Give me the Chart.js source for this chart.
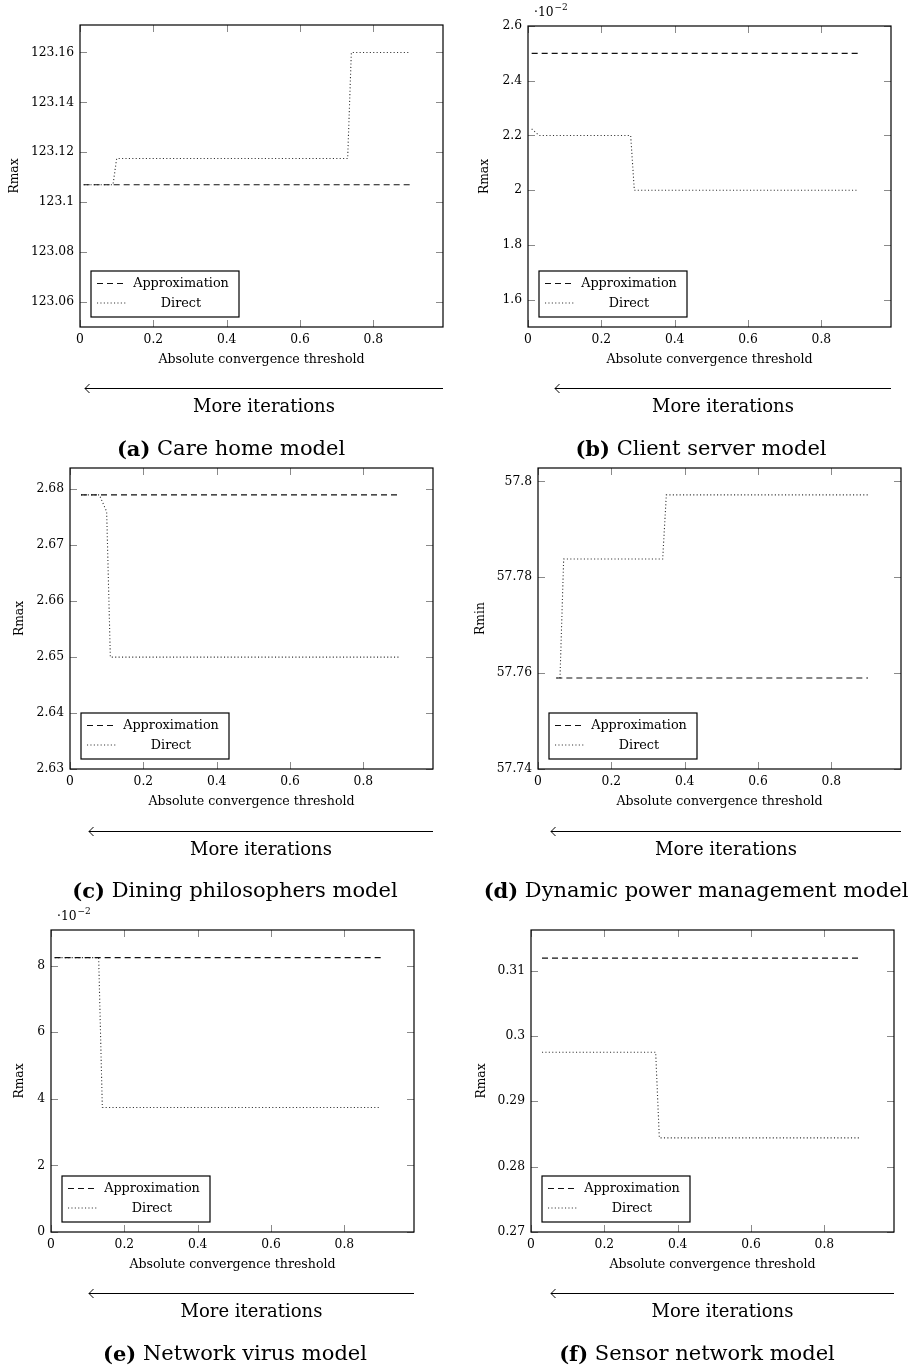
<!DOCTYPE html>
<html>
<head>
<meta charset="utf-8">
<script src="https://cdn.jsdelivr.net/npm/chart.js@4.4.1/dist/chart.umd.min.js"></script>
<style>
  body { margin: 0; background: #fff; width: 915px; height: 1370px; position: relative; overflow: hidden; }
  canvas.plot { position: absolute; }
  #overlay { position: absolute; left: 0; top: 0; pointer-events: none; }
  #overlay text { font-family: 'DejaVu Serif', serif; fill: #000; }
</style>
</head>
<body>
<canvas class="plot" id="chartA"></canvas>
<canvas class="plot" id="chartB"></canvas>
<canvas class="plot" id="chartC"></canvas>
<canvas class="plot" id="chartD"></canvas>
<canvas class="plot" id="chartE"></canvas>
<canvas class="plot" id="chartF"></canvas>
<svg id="overlay" width="915" height="1370" xmlns="http://www.w3.org/2000/svg"></svg>
<script>
// shared axis stuff
var xTickValues = [0, 0.2, 0.4, 0.6, 0.8];
var xTickLabels = ['0', '0.2', '0.4', '0.6', '0.8'];
var xRange = [0, 0.99];
var seriesNames = ['Approximation', 'Direct'];

// (a) Care home model
var careApproxX = [0.01, 0.9];
var careApproxY = [123.107, 123.107];
var careDirectX = [0.01, 0.09, 0.1, 0.73, 0.74, 0.9];
var careDirectY = [123.107, 123.107, 123.1175, 123.1175, 123.16, 123.16];
var careTicks = [123.06, 123.08, 123.1, 123.12, 123.14, 123.16];
var careTickLabels = ['123.06', '123.08', '123.1', '123.12', '123.14', '123.16'];
var careRange = [123.05, 123.171];

// (b) Client server model
var clientApproxX = [0.01, 0.9];
var clientApproxY = [0.025, 0.025];
var clientDirectX = [0.01, 0.03, 0.28, 0.29, 0.9];
var clientDirectY = [0.02224, 0.022, 0.022, 0.020, 0.020];
var clientTicks = [0.016, 0.018, 0.020, 0.022, 0.024, 0.026];
var clientTickLabels = ['1.6', '1.8', '2', '2.2', '2.4', '2.6'];
var clientRange = [0.015, 0.026];

// (c) Dining philosophers model
var diningApproxX = [0.03, 0.9];
var diningApproxY = [2.679, 2.679];
var diningDirectX = [0.03, 0.08, 0.1, 0.11, 0.9];
var diningDirectY = [2.679, 2.679, 2.676, 2.65, 2.65];
var diningTicks = [2.63, 2.64, 2.65, 2.66, 2.67, 2.68];
var diningTickLabels = ['2.63', '2.64', '2.65', '2.66', '2.67', '2.68'];
var diningRange = [2.63, 2.6838];

// (d) Dynamic power management model
var powerApproxX = [0.05, 0.9];
var powerApproxY = [57.759, 57.759];
var powerDirectX = [0.05, 0.06, 0.07, 0.34, 0.35, 0.9];
var powerDirectY = [57.759, 57.759, 57.7838, 57.7838, 57.7972, 57.7972];
var powerTicks = [57.74, 57.76, 57.78, 57.8];
var powerTickLabels = ['57.74', '57.76', '57.78', '57.8'];
var powerRange = [57.74, 57.8028];

// (e) Network virus model
var virusApproxX = [0.01, 0.9];
var virusApproxY = [0.0824, 0.0824];
var virusDirectX = [0.01, 0.13, 0.14, 0.9];
var virusDirectY = [0.0824, 0.0824, 0.0374, 0.0374];
var virusTicks = [0, 0.02, 0.04, 0.06, 0.08];
var virusTickLabels = ['0', '2', '4', '6', '8'];
var virusRange = [0, 0.0907];

// (f) Sensor network model
var sensorApproxX = [0.03, 0.9];
var sensorApproxY = [0.3119, 0.3119];
var sensorDirectX = [0.03, 0.34, 0.35, 0.9];
var sensorDirectY = [0.2975, 0.2975, 0.2844, 0.2844];
var sensorTicks = [0.27, 0.28, 0.29, 0.3, 0.31];
var sensorTickLabels = ['0.27', '0.28', '0.29', '0.3', '0.31'];
var sensorRange = [0.27, 0.3162];

Chart.defaults.font.family = "'DejaVu Serif', serif";
Chart.defaults.font.size = 12.3;
Chart.defaults.color = '#000';
Chart.defaults.animation = false;

function pairs(xs, ys) {
    return xs.map(function (x, i) { return { x: x, y: ys[i] }; });
}

// frame, inner ticks, legend box and the 10^-2 label (pgfplots look)
var pgfLook = {
    id: 'pgfLook',
    afterDatasetsDraw: function (chart, args, opts) {
        var ctx = chart.ctx, a = chart.chartArea;
        var xs = chart.scales.x, ys = chart.scales.y;
        ctx.save();
        ctx.strokeStyle = '#8a8a8a';
        ctx.lineWidth = 1;
        ctx.beginPath();
        xs.ticks.forEach(function (t) {
            var px = Math.round(xs.getPixelForValue(t.value)) + 0.5;
            ctx.moveTo(px, a.bottom); ctx.lineTo(px, a.bottom - 7);
            ctx.moveTo(px, a.top); ctx.lineTo(px, a.top + 7);
        });
        ys.ticks.forEach(function (t) {
            var py = Math.round(ys.getPixelForValue(t.value)) + 0.5;
            ctx.moveTo(a.left, py); ctx.lineTo(a.left + 7, py);
            ctx.moveTo(a.right, py); ctx.lineTo(a.right - 7, py);
        });
        ctx.stroke();

        ctx.strokeStyle = '#000';
        ctx.lineWidth = 1.2;
        ctx.strokeRect(a.left, a.top, a.right - a.left, a.bottom - a.top);

        // legend
        var lx = a.left + 11, ly = a.bottom - 10 - 46;
        ctx.fillStyle = '#fff';
        ctx.fillRect(lx, ly, 148, 46);
        ctx.lineWidth = 1.2;
        ctx.strokeRect(lx, ly, 148, 46);
        ctx.font = "12.8px 'DejaVu Serif', serif";
        ctx.textAlign = 'center';
        ctx.textBaseline = 'middle';
        chart.data.datasets.forEach(function (ds, i) {
            var yy = ly + 12.5 + i * 19.5;
            ctx.beginPath();
            ctx.setLineDash(ds.borderDash);
            ctx.strokeStyle = ds.borderColor;
            ctx.lineWidth = ds.borderWidth;
            ctx.moveTo(lx + 6, yy);
            ctx.lineTo(lx + 35, yy);
            ctx.stroke();
            ctx.setLineDash([]);
            ctx.fillStyle = '#000';
            ctx.fillText(ds.label, lx + 90, yy + 0.5);
        });

        if (opts.exponent) {
            ctx.textAlign = 'left';
            ctx.font = "12.3px 'DejaVu Serif', serif";
            ctx.fillText('\u00b710', a.left + 6, a.top - 13);
            var w = ctx.measureText('\u00b710').width;
            ctx.font = "9px 'DejaVu Serif', serif";
            ctx.fillText(opts.exponent, a.left + 6 + w + 1, a.top - 18);
        }
        ctx.restore();
    }
};

function makePanel(cfg) {
    var canvas = document.getElementById(cfg.id);
    var left = cfg.col ? 458 : 0;
    var top = cfg.box[1] - 25;
    var width = cfg.box[2] + 8 - left;
    var height = cfg.box[3] + 45 - top;
    var yW = cfg.box[0] - left;
    canvas.width = width;
    canvas.height = height;
    canvas.style.left = left + 'px';
    canvas.style.top = top + 'px';

    return new Chart(canvas.getContext('2d'), {
        type: 'scatter',
        data: {
            datasets: [{
                label: seriesNames[0],
                data: pairs(cfg.ax, cfg.ay),
                showLine: true,
                borderColor: '#111',
                borderWidth: 1.1,
                borderDash: [6, 4],
                pointRadius: 0,
                tension: 0
            }, {
                label: seriesNames[1],
                data: pairs(cfg.dx, cfg.dy),
                showLine: true,
                borderColor: '#333',
                borderWidth: 1.1,
                borderDash: [1.1, 2.3],
                pointRadius: 0,
                tension: 0
            }]
        },
        options: {
            responsive: false,
            layout: { padding: { top: 25, right: 8, left: 0, bottom: 0 } },
            plugins: {
                legend: { display: false },
                tooltip: { enabled: false },
                pgfLook: { exponent: cfg.exponent }
            },
            scales: {
                x: {
                    type: 'linear',
                    min: xRange[0],
                    max: xRange[1],
                    grid: { display: false, drawTicks: false },
                    border: { display: false },
                    afterBuildTicks: function (scale) {
                        scale.ticks = xTickValues.map(function (v) { return { value: v }; });
                    },
                    afterFit: function (scale) { scale.height = 45; },
                    ticks: {
                        autoSkip: false,
                        maxRotation: 0,
                        padding: 5,
                        callback: function (v, i) { return xTickLabels[i]; }
                    },
                    title: {
                        display: true,
                        text: 'Absolute convergence threshold',
                        font: { size: 12.6 },
                        padding: { top: 0, bottom: 4.5 }
                    }
                },
                y: {
                    type: 'linear',
                    min: cfg.range[0],
                    max: cfg.range[1],
                    grid: { display: false, drawTicks: false },
                    border: { display: false },
                    afterBuildTicks: function (scale) {
                        scale.ticks = cfg.ticks.map(function (v) { return { value: v }; });
                    },
                    afterFit: function (scale) { scale.width = yW; },
                    ticks: {
                        autoSkip: false,
                        padding: 6,
                        callback: function (v, i) { return cfg.tickLabels[i]; }
                    },
                    title: {
                        display: true,
                        text: cfg.yTitle,
                        padding: { top: yW - cfg.titleGap - 7.4, bottom: 0 }
                    }
                }
            }
        },
        plugins: [pgfLook]
    });
}

makePanel({ id: 'chartA', col: 0, box: [80, 25, 443, 327], titleGap: 65, yTitle: 'Rmax',
    ax: careApproxX, ay: careApproxY, dx: careDirectX, dy: careDirectY,
    ticks: careTicks, tickLabels: careTickLabels, range: careRange });
makePanel({ id: 'chartB', col: 1, box: [528, 26, 891, 327], titleGap: 43, yTitle: 'Rmax', exponent: '\u22122',
    ax: clientApproxX, ay: clientApproxY, dx: clientDirectX, dy: clientDirectY,
    ticks: clientTicks, tickLabels: clientTickLabels, range: clientRange });
makePanel({ id: 'chartC', col: 0, box: [70, 468, 433, 769], titleGap: 50, yTitle: 'Rmax',
    ax: diningApproxX, ay: diningApproxY, dx: diningDirectX, dy: diningDirectY,
    ticks: diningTicks, tickLabels: diningTickLabels, range: diningRange });
makePanel({ id: 'chartD', col: 1, box: [538, 468, 901, 769], titleGap: 57, yTitle: 'Rmin',
    ax: powerApproxX, ay: powerApproxY, dx: powerDirectX, dy: powerDirectY,
    ticks: powerTicks, tickLabels: powerTickLabels, range: powerRange });
makePanel({ id: 'chartE', col: 0, box: [51, 930, 414, 1232], titleGap: 31, yTitle: 'Rmax', exponent: '\u22122',
    ax: virusApproxX, ay: virusApproxY, dx: virusDirectX, dy: virusDirectY,
    ticks: virusTicks, tickLabels: virusTickLabels, range: virusRange });
makePanel({ id: 'chartF', col: 1, box: [531, 930, 894, 1232], titleGap: 49, yTitle: 'Rmax',
    ax: sensorApproxX, ay: sensorApproxY, dx: sensorDirectX, dy: sensorDirectY,
    ticks: sensorTicks, tickLabels: sensorTickLabels, range: sensorRange });

// arrows, "More iterations" and the subfigure captions
var captions = [
    { tag: '(a)', text: 'Care home model', arrow: [85, 443, 388], cap: [231, 448] },
    { tag: '(b)', text: 'Client server model', arrow: [555, 891, 388], cap: [701, 448] },
    { tag: '(c)', text: 'Dining philosophers model', arrow: [89, 433, 831], cap: [235, 890] },
    { tag: '(d)', text: 'Dynamic power management model', arrow: [551, 901, 831], cap: [696, 890] },
    { tag: '(e)', text: 'Network virus model', arrow: [89, 414, 1293], cap: [235, 1353] },
    { tag: '(f)', text: 'Sensor network model', arrow: [551, 894, 1293], cap: [697, 1353] }
];

var svg = document.getElementById('overlay');
var html = '';
captions.forEach(function (c) {
    var x1 = c.arrow[0], x2 = c.arrow[1], y = c.arrow[2] + 0.5;
    html += '<line x1="' + x1 + '" y1="' + y + '" x2="' + x2 + '" y2="' + y + '" stroke="#000" stroke-width="1.1"/>';
    html += '<path d="M' + (x1 + 4.5) + ' ' + (y - 4.5) + ' Q' + (x1 + 1) + ' ' + (y - 1) + ' ' + x1 + ' ' + y +
        ' Q' + (x1 + 1) + ' ' + (y + 1) + ' ' + (x1 + 4.5) + ' ' + (y + 4.5) + '" fill="none" stroke="#000" stroke-width="1"/>';
    html += '<text x="' + ((x1 + x2) / 2) + '" y="' + (c.arrow[2] + 17) + '" font-size="18" text-anchor="middle" dominant-baseline="central">More iterations</text>';
    html += '<text x="' + c.cap[0] + '" y="' + c.cap[1] + '" font-size="21" text-anchor="middle" dominant-baseline="central">' +
        '<tspan font-weight="bold">' + c.tag + '</tspan> ' + c.text + '</text>';
});
svg.innerHTML = html;
</script>
</body>
</html>
